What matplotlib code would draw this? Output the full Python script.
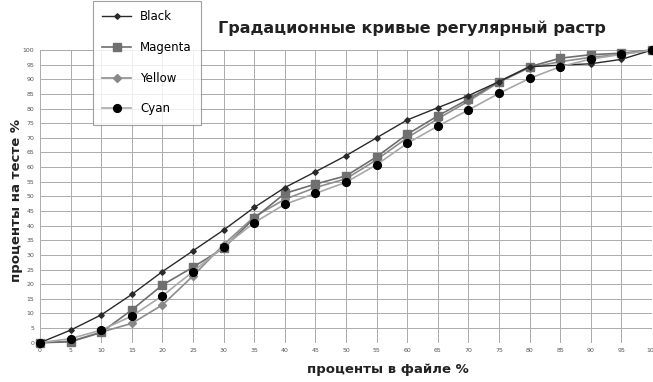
import matplotlib
matplotlib.use("Agg")
import matplotlib.pyplot as plt

x = [0, 5, 10, 15, 20, 25, 30, 35, 40, 45, 50, 55, 60, 65, 70, 75, 80, 85, 90, 95, 100]
black = [0, 4.3, 9.5, 16.5, 24.3, 31.4, 38.5, 46.2, 53.0, 58.4, 63.9, 70.0, 76.1, 80.3, 84.4, 89.2, 94.3, 94.8, 95.3, 96.8, 100]
magenta = [0, 0.3, 3.5, 11.2, 19.7, 25.8, 32.3, 42.5, 51.0, 54.2, 57.0, 63.5, 71.2, 77.5, 83.2, 89.2, 94.3, 97.2, 98.4, 98.9, 100]
yellow = [0, 0.5, 3.6, 6.6, 12.9, 22.8, 33.5, 43.0, 49.0, 53.0, 56.0, 62.5, 70.0, 76.5, 82.5, 89.0, 94.0, 96.0, 97.5, 98.5, 100]
cyan = [0, 1.4, 4.3, 9.1, 16.0, 24.3, 32.8, 41.0, 47.3, 51.0, 54.8, 60.8, 68.1, 74.0, 79.5, 85.2, 90.3, 94.3, 96.9, 98.5, 100]
ticks = list(range(0, 101, 5))

fig = plt.figure(figsize=(6.53, 3.82), dpi=100)
ax = fig.add_axes([40/653, 39.3/382, 612/653, 292.7/382])

ax.plot(x, black, color="#2a2a2a", lw=1.0, marker="D", ms=2.8, mfc="#2a2a2a", mec="#2a2a2a", label="Black", clip_on=False, zorder=5)
ax.plot(x, magenta, color="#6e6e6e", lw=1.2, marker="s", ms=5.5, mfc="#707070", mec="#707070", label="Magenta", clip_on=False, zorder=4)
ax.plot(x, yellow, color="#8c8c8c", lw=1.2, marker="D", ms=4.5, mfc="#888888", mec="#888888", label="Yellow", clip_on=False, zorder=3)
ax.plot(x, cyan, color="#a8a8a8", lw=1.2, marker="o", ms=5.6, mfc="#000000", mec="#000000", label="Cyan", clip_on=False, zorder=6)

ax.set_xlim(0, 100)
ax.set_ylim(0, 100)
ax.set_xticks(ticks)
ax.set_yticks(ticks)
ax.set_xticklabels([str(t) for t in ticks], fontsize=4.5, color="#555555")
ax.set_yticklabels([str(t) for t in ticks], fontsize=4.5, color="#555555")
ax.tick_params(length=0, pad=4)
ax.grid(True, color="#ababab", lw=0.7)
for s in ax.spines.values():
    s.set_visible(False)

fig.text(412/653, 1 - 28/382, "Градационные кривые регулярный растр", fontsize=11.5, fontweight="bold",
         ha="center", va="center", color="#222222")
fig.text(17/653, 1 - 200/382, "проценты на тесте %", fontsize=9.5, fontweight="bold", rotation=90,
         ha="center", va="center", color="#222222")
fig.text(388/653, 1 - 370/382, "проценты в файле %", fontsize=9.5, fontweight="bold",
         ha="center", va="center", color="#222222")

leg = fig.legend(loc="upper left", bbox_to_anchor=(87/653, 1 + 5/382), fontsize=8.5,
                 frameon=True, fancybox=False, edgecolor="#888888", labelspacing=1.5,
                 handlelength=2.4, borderpad=0.8)
leg.get_frame().set_linewidth(0.8)

fig.savefig("out.png", dpi=100)
